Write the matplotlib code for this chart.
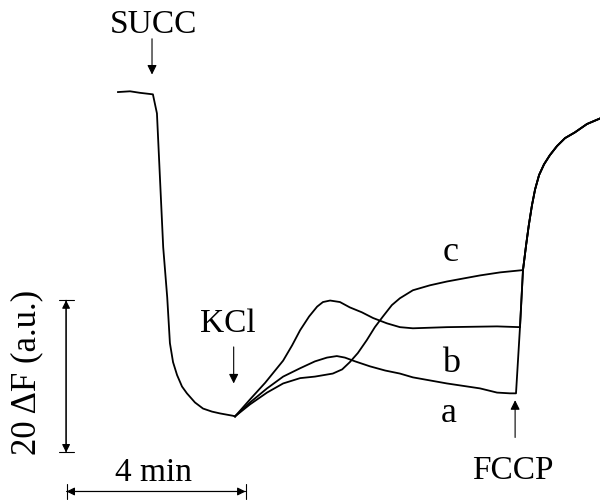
import matplotlib.pyplot as plt

# fluorescence traces, time in min, signal in a.u. (0 = level at KCl addition)
t_succ = [0.0, 0.27, 0.49, 0.78, 0.87, 0.94, 1.01, 1.10, 1.16, 1.23, 1.32, 1.43,
          1.54, 1.72, 1.90, 2.10, 2.28, 2.57, 2.615]
f_succ = [42.5, 42.6, 42.4, 42.2, 39.7, 30.9, 22.1, 15.5, 9.5, 7.0, 5.3, 3.8,
          2.9, 1.7, 0.9, 0.5, 0.26, -0.05, -0.13]

t_a = [2.615, 2.95, 3.33, 3.69, 4.07, 4.40, 4.67, 4.89, 5.07, 5.30, 5.63, 5.97,
       6.30, 6.59, 7.35, 8.09, 8.47, 8.76, 8.894]
f_a = [-0.13, 1.7, 3.55, 5.1, 6.2, 7.1, 7.6, 7.8, 7.6, 7.1, 6.45, 5.9,
       5.5, 5.0, 4.2, 3.55, 3.0, 2.9, 2.9]

t_b = [2.615, 2.95, 3.29, 3.69, 3.89, 4.07, 4.27, 4.45, 4.58, 4.74, 4.96, 5.18,
       5.45, 5.70, 6.01, 6.30, 6.59, 7.35, 8.47, 8.983]
f_b = [-0.13, 2.1, 4.3, 7.2, 9.2, 11.2, 13.0, 14.3, 14.9, 15.1, 14.9, 14.2,
       13.55, 12.8, 12.1, 11.6, 11.45, 11.6, 11.7, 11.6]

t_c = [2.615, 2.95, 3.33, 3.69, 4.07, 4.40, 4.80, 5.01, 5.18, 5.36, 5.56, 5.74,
       5.92, 6.12, 6.30, 6.59, 6.97, 7.35, 8.09, 8.54, 9.05]
f_c = [-0.13, 1.45, 3.0, 4.2, 4.9, 5.1, 5.5, 6.05, 7.0, 8.2, 9.9, 11.6,
       13.0, 14.5, 15.4, 16.45, 17.1, 17.6, 18.4, 18.8, 19.1]

# common rise after FCCP
t_fccp = [8.894, 8.983, 9.05, 9.12, 9.18, 9.25, 9.32, 9.41, 9.52, 9.65, 9.81,
          9.99, 10.21, 10.48, 10.80]
f_fccp = [2.9, 11.6, 19.1, 22.4, 25.0, 27.6, 29.7, 31.6, 33.0, 34.2, 35.4,
          36.45, 37.2, 38.3, 39.1]

ev_succ, ev_kcl, ev_fccp = 0.76, 2.615, 8.894
bar_t, bar_f = 4, 20

plt.rcParams['font.family'] = ['Liberation Serif', 'DejaVu Serif']

fig = plt.figure(figsize=(6, 5.01), dpi=100)
ax = fig.add_axes([0, 0, 1, 1])
ax.set_xlim(-2.637, 10.771)
ax.set_ylim(-11.25, 54.6)
ax.axis('off')

lw = 1.3
ax.plot(t_succ, f_succ, color='k', lw=lw)
for tt, ff in [(t_a, f_a), (t_b, f_b), (t_c, f_c)]:
    rest = [(x, y) for x, y in zip(t_fccp, f_fccp) if x > tt[-1]]
    ax.plot(tt + [p[0] for p in rest], ff + [p[1] for p in rest], color='k',
            lw=lw, solid_joinstyle='round')

fs = 24
arr = dict(arrowstyle='-|>', color='k', lw=0.8, mutation_scale=14, shrinkA=0, shrinkB=0)

# event arrows
ax.annotate('', xy=(ev_succ, 44.8), xytext=(ev_succ, 49.5), arrowprops=arr)
ax.text(ev_succ + 0.03, 50.3, 'SUCC', fontsize=fs, ha='center', va='baseline')

ax.annotate('', xy=(ev_kcl - 0.03, 4.2), xytext=(ev_kcl - 0.03, 9.0), arrowprops=arr)
ax.text(ev_kcl - 0.16, 11.0, 'KCl', fontsize=fs, ha='center', va='baseline')

ax.annotate('', xy=(ev_fccp - 0.02, 2.0), xytext=(ev_fccp - 0.02, -2.9), arrowprops=arr)
ax.text(ev_fccp - 0.07, -8.3, 'FCCP', fontsize=fs, ha='center', va='baseline')

# trace labels
ax.text(7.44, 20.3, 'c', fontsize=fs + 2, ha='center', va='baseline')
ax.text(7.44, 5.7, 'b', fontsize=fs + 2, ha='center', va='baseline')
ax.text(7.40, -0.9, 'a', fontsize=fs + 2, ha='center', va='baseline')

# scale bars
x0, y0 = -1.16, -4.87
for st in ['<|-|>', '|-|, widthA=0.45, widthB=0.45']:
    kw = dict(arrowstyle=st, color='k', lw=0.8, shrinkA=0, shrinkB=0, mutation_scale=12)
    ax.annotate('', xy=(x0, y0), xytext=(x0, y0 + bar_f), arrowprops=kw)
    ax.annotate('', xy=(-1.15, -10.0), xytext=(-1.15 + bar_t, -10.0), arrowprops=kw)

ax.text(-2.03, 5.6, '20 \u0394F (a.u.)', fontsize=fs + 1, rotation=90,
        ha='center', va='center')
ax.text(0.80, -8.6, '4 min', fontsize=fs, ha='center', va='baseline')

fig.savefig('out.png', dpi=100)
